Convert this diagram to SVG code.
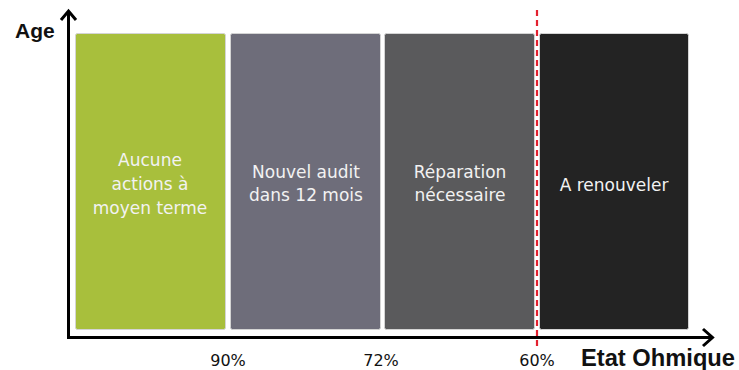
<svg xmlns="http://www.w3.org/2000/svg" width="739" height="370" viewBox="0 0 739 370">
<style>
.box{stroke:#d4d4d4;stroke-width:1}
.lbl{font-family:"DejaVu Sans","Liberation Sans",sans-serif;font-size:17px;fill:#f2f2f2;text-anchor:middle}
.pct{font-family:"DejaVu Sans","Liberation Sans",sans-serif;font-size:16px;fill:#111;text-anchor:middle}
.ax{font-family:"Liberation Sans","DejaVu Sans",sans-serif;font-weight:bold;fill:#111}
.axis{stroke:#000;stroke-width:3;fill:none}
</style>
<rect width="739" height="370" fill="#fff"/>
<g id="zone-aucune">
<rect class="box" x="75.5" y="33.5" width="150" height="296" rx="2" fill="#a8bf3c"/>
<text class="lbl" x="150" y="166">Aucune</text>
<text class="lbl" x="150" y="190">actions à</text>
<text class="lbl" x="150" y="214">moyen terme</text>
</g>
<g id="zone-audit">
<rect class="box" x="230.5" y="33.5" width="150" height="296" rx="2" fill="#6e6d7a"/>
<text class="lbl" x="306" y="178">Nouvel audit</text>
<text class="lbl" x="306" y="201">dans 12 mois</text>
</g>
<g id="zone-reparation">
<rect class="box" x="384.5" y="33.5" width="150" height="296" rx="2" fill="#5a5a5c"/>
<text class="lbl" x="460" y="178">Réparation</text>
<text class="lbl" x="460" y="201">nécessaire</text>
</g>
<g id="zone-renouveler">
<rect class="box" x="539.5" y="33.5" width="149" height="296" rx="2" fill="#232323"/>
<text class="lbl" x="614" y="191">A renouveler</text>
</g>
<g id="connectors">
<path class="axis" d="M68.5 12 V337.5 H712"/>
<path class="axis" d="M61 20 L68.5 11 L76 20"/>
<path class="axis" d="M703 329 L712.5 337.5 L703 346"/>
<line x1="537" y1="10" x2="537" y2="346" stroke="#e3202f" stroke-width="2.2" stroke-dasharray="6,4"/>
</g>
<g id="labels">
<text class="ax" x="15" y="38" font-size="21">Age</text>
<text class="pct" x="228" y="366">90%</text>
<text class="pct" x="381" y="366">72%</text>
<text class="pct" x="537" y="366">60%</text>
<text class="ax" x="581" y="366" font-size="23" textLength="154" lengthAdjust="spacingAndGlyphs">Etat Ohmique</text>
</g>
</svg>
